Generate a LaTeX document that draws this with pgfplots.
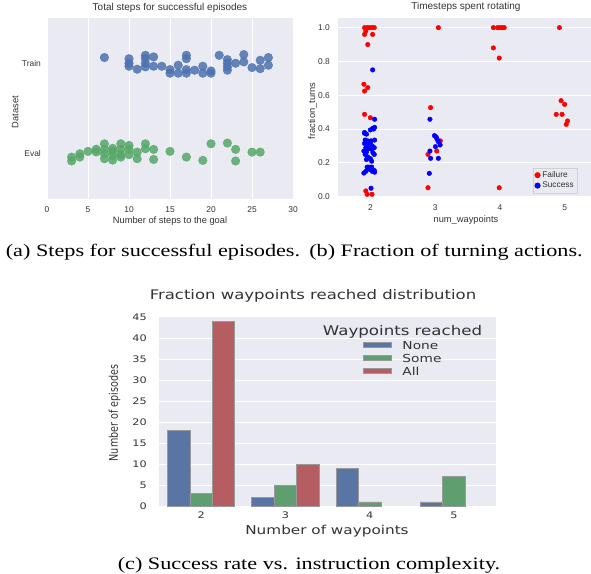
\documentclass[border=0pt]{standalone}
\usepackage{fontspec}
\setmainfont{Liberation Sans}
\newfontfamily\vera[FakeStretch=1.25]{DejaVu Sans}
\newfontfamily\veraplain{DejaVu Sans}
\newfontfamily\capserif[FakeStretch=1.27]{Liberation Serif}
\usepackage{pgfplots}
\pgfplotsset{compat=1.18}
\usetikzlibrary{shadows}

\definecolor{bgcol}{HTML}{EAEAF2}
\definecolor{sbblue}{HTML}{4C72B0}
\definecolor{sbgreen}{HTML}{55A868}
\definecolor{barblue}{HTML}{5975A4}
\definecolor{bargreen}{HTML}{5F9E6E}
\definecolor{barred}{HTML}{B55D60}
\definecolor{txt}{HTML}{333333}

\pgfplotsset{
  sbstyle/.style={
    scale only axis,
    axis background/.style={fill=bgcol},
    axis line style={draw=none},
    major tick length=0pt,
    grid style={white, line width=1pt},
    tick label style={text=txt, inner sep=0pt},
    label style={text=txt, inner sep=0pt},
    title style={text=txt, inner sep=0pt},
    /pgf/number format/assume math mode=true,
  },
}

\begin{document}
\begin{tikzpicture}
\path[use as bounding box] (0pt,0pt) rectangle (591pt,573pt);

% (a) steps for successful episodes
\begin{axis}[sbstyle,
  at={(47pt,374pt)}, anchor=south west, width=246pt, height=181pt,
  xmin=0, xmax=30, ymin=-0.5, ymax=1.5,
  xtick={0,5,...,30}, ytick={0,1}, yticklabels={Eval,Train},
  xmajorgrids,
  title={Total steps for successful episodes},
  title style={at={(axis description cs:0.5,1.0072)}, anchor=base, font=\fontsize{10}{12}\selectfont},
  xlabel={Number of steps to the goal},
  xlabel style={at={(axis description cs:0.5,-0.1354)}, anchor=base, font=\fontsize{9.3}{11}\selectfont},
  ylabel={Dataset},
  ylabel style={at={(axis description cs:-0.1167,0.48)}, anchor=base, font=\fontsize{9.3}{11}\selectfont},
  tick label style={font=\fontsize{8.4}{10}\selectfont},
  xticklabel style={anchor=base, yshift=-13.5pt},
  yticklabel style={anchor=east, xshift=-6pt},
  clip=false]
\addplot[only marks, mark=*, mark size=4.3pt, color=sbblue, opacity=0.85]
  coordinates {(7,1.063) (10,1.05) (10,1.0) (10,0.967) (11,0.934) (12,1.088) (12,1.05) (12,1.0) (12,0.96)
  (13,1.07) (13,0.967) (14,0.967) (15,0.93) (15,0.89) (16,0.978) (16,0.89) (17,1.088) (17,1.05) (17,0.93)
  (17,0.89) (18,0.923) (19,0.967) (19,0.89) (20,0.915) (20,0.89) (21,1.088) (22,1.04) (22,1.0) (22,0.96)
  (22,0.923) (23,1.0) (24,1.096) (24,1.015) (25,0.952) (26,1.033) (26,0.94) (27,1.063) (27,0.978)};
\addplot[only marks, mark=*, mark size=4.3pt, color=sbgreen, opacity=0.85]
  coordinates {(3,-0.037) (3,-0.08) (4,0.0) (4,-0.037) (5,0.026) (6,0.05) (6,0.02) (7,0.11) (7,0.048) (7,0.0)
  (7,-0.055) (8,0.026) (8,-0.018) (8,-0.07) (8,0.06) (9,0.11) (9,0.048) (9,-0.01) (9,-0.037) (10,0.092)
  (10,0.048) (10,-0.01) (11,0.018) (11,-0.055) (12,0.11) (12,0.055) (13,0.048) (13,-0.063) (15,0.026)
  (17,-0.037) (19,-0.073) (20,0.11) (22,0.118) (23,0.048) (23,-0.08) (25,0.018) (26,0.018)};
\end{axis}

% (b) timesteps spent rotating
\begin{axis}[sbstyle,
  at={(338pt,376.3pt)}, anchor=south west, width=259pt, height=178.7pt,
  xmin=1.5, xmax=5.5, ymin=0, ymax=1.057,
  xtick={2,3,4,5}, ytick={0,0.2,0.4,0.6,0.8,1.0},
  yticklabel style={/pgf/number format/fixed, /pgf/number format/fixed zerofill,
    /pgf/number format/precision=1, anchor=east, xshift=-8pt},
  ymajorgrids,
  title={Timesteps spent rotating},
  title style={at={(axis description cs:0.494,1.0112)}, anchor=base, font=\fontsize{10}{12}\selectfont},
  xlabel={num\_waypoints},
  xlabel style={at={(axis description cs:0.494,-0.1416)}, anchor=base, font=\fontsize{9.3}{11}\selectfont},
  ylabel={fraction\_turns},
  ylabel style={at={(axis description cs:-0.0888,0.48)}, anchor=base, font=\fontsize{9.3}{11}\selectfont},
  tick label style={font=\fontsize{8.4}{10}\selectfont},
  xticklabel style={anchor=base, yshift=-13.5pt},
  legend cell align=left,
  legend image code/.code={\draw[mark repeat=2,mark phase=2,#1] plot coordinates {(0cm,0cm) (0.2cm,0cm) (0.4cm,0cm)};},
  legend image post style={mark size=2.8pt},
  legend style={at={(0.753,0.021)}, anchor=south west, draw=black!18, fill=bgcol,
    font=\fontsize{8.3}{9.6}\selectfont, text=txt, inner sep=1.5pt, row sep=-1pt,
    drop shadow={shadow xshift=1pt, shadow yshift=-1.5pt, fill=black!45, opacity=0.6}},
  clip=false]
\addplot[only marks, mark=*, mark size=2.3pt, color=red]
  coordinates {(1.91,1.0) (1.95,1.0) (1.985,1.0) (2.025,1.0) (2.06,1.0) (1.93,0.98) (1.91,0.96) (2.035,0.96)
  (1.96,0.90) (1.90,0.665) (1.96,0.645) (1.91,0.625) (1.91,0.487) (2.0,0.467) (1.93,0.034) (1.95,0.014)
  (2.025,0.014)
  (3.05,1.0) (2.93,0.527) (3.08,0.33) (2.89,0.25) (3.025,0.27) (2.89,0.053)
  (3.90,1.0) (3.965,1.0) (4.0,1.0) (4.035,1.0) (4.067,1.0) (3.90,0.88) (3.99,0.82) (3.99,0.053)
  (4.92,1.0) (4.945,0.568) (5.0,0.546) (4.87,0.487) (4.96,0.487) (5.045,0.448) (5.025,0.428)};
\addlegendentry{Failure}
\addplot[only marks, mark=*, mark size=2.3pt, color=blue]
  coordinates {(2.035,0.75) (2.065,0.458) (2.035,0.404) (2.065,0.41) (2.0,0.395) (1.91,0.375) (1.94,0.37)
  (1.92,0.335) (1.96,0.33) (2.065,0.335) (1.91,0.315) (2.0,0.31) (2.03,0.30) (1.95,0.30) (2.06,0.29)
  (1.98,0.285) (2.02,0.28) (1.90,0.27) (1.94,0.265) (2.04,0.26) (1.92,0.25) (2.06,0.25) (1.96,0.235)
  (2.0,0.225) (1.94,0.22) (2.02,0.21) (1.90,0.14) (1.93,0.15) (1.95,0.175) (1.98,0.175) (2.0,0.16)
  (2.03,0.15) (2.06,0.155) (2.065,0.145) (1.97,0.165) (2.01,0.05) (1.91,0.38) (2.02,0.175) (1.97,0.31)
  (2.01,0.33) (1.93,0.29) (2.05,0.40)
  (2.92,0.458) (2.99,0.361) (3.015,0.353) (3.03,0.339) (3.05,0.325) (3.077,0.306) (3.005,0.296)
  (2.92,0.27) (2.93,0.227) (3.05,0.227) (2.91,0.138)};
\addlegendentry{Success}
\end{axis}

% (c) fraction waypoints reached distribution
\begin{axis}[sbstyle,
  at={(159pt,67pt)}, anchor=south west, width=337pt, height=189pt,
  xmin=-0.5, xmax=3.5, ymin=0, ymax=45,
  xtick={0,1,2,3}, xticklabels={2,3,4,5}, ytick={0,5,...,45},
  ymajorgrids,
  ybar=0pt, bar width=22.4pt,
  title={Fraction waypoints reached distribution},
  title style={at={(axis description cs:0.457,1.0598)}, anchor=base, font=\vera\fontsize{13.2}{15}\selectfont},
  xlabel={Number of waypoints},
  xlabel style={at={(axis description cs:0.4985,-0.1524)}, anchor=base, font=\vera\fontsize{12.2}{14}\selectfont},
  ylabel={\scalebox{1}[1.25]{Number of episodes}},
  ylabel style={at={(axis description cs:-0.1217,0.492)}, anchor=base, font=\veraplain\fontsize{9.6}{11}\selectfont},
  tick label style={font=\vera\fontsize{9}{10}\selectfont},
  xticklabel style={anchor=base, yshift=-12.3pt},
  yticklabel style={anchor=east, xshift=-12pt},
  legend cell align=left,
  legend image code/.code={\draw[#1,/tikz/.cd] (0pt,-2.5pt) rectangle (28pt,2.5pt);},
  legend style={at={(0.605,0.873)}, anchor=north west, draw=none, fill=none,
    inner sep=0pt, outer sep=0pt, font=\vera\fontsize{11}{12}\selectfont, text=txt,
    nodes={inner sep=0pt, text height=8pt, text depth=0pt}, row sep=5pt,
    /tikz/every odd column/.append style={column sep=11pt}},
  ]
\addplot[fill=barblue, draw=black!40, line width=0.6pt] coordinates {(0,18) (1,2) (2,9) (3,1)};
\addlegendentry{None}
\addplot[fill=bargreen, draw=black!40, line width=0.6pt] coordinates {(0,3) (1,5) (2,1) (3,7)};
\addlegendentry{Some}
\addplot[fill=barred, draw=black!40, line width=0.6pt] coordinates {(0,44) (1,10)};
\addlegendentry{All}
\node[anchor=base, text=txt, font=\vera\fontsize{13.3}{15}\selectfont] at (rel axis cs:0.7226,0.8995) {Waypoints reached};
\end{axis}

% captions
\node[anchor=base, font=\capserif\fontsize{17.5}{20}\selectfont] at (153pt,316pt) {(a) Steps for successful episodes.};
\node[anchor=base, font=\capserif\fontsize{17.5}{20}\selectfont] at (446pt,316pt) {(b) Fraction of turning actions.};
\node[anchor=base, font=\capserif\fontsize{17.5}{20}\selectfont] at (309pt,4pt) {(c) Success rate vs. instruction complexity.};
\end{tikzpicture}
\end{document}
